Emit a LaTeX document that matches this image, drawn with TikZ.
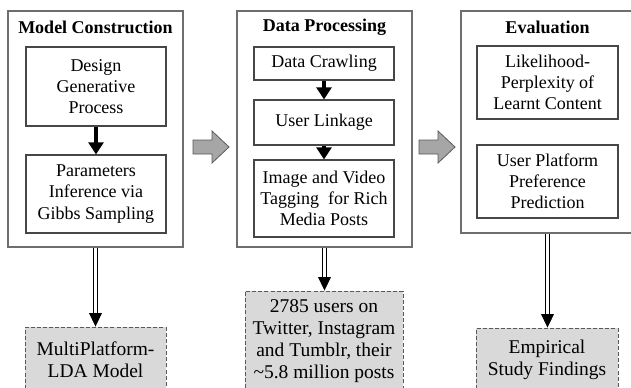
\documentclass[tikz,border=0pt]{standalone}
\usepackage{fontspec}
\setmainfont{Liberation Serif}
\newfontfamily\diagserif{Liberation Serif}
\usetikzlibrary{arrows.meta,calc}
\definecolor{edgec}{HTML}{595959}
\definecolor{outerc}{HTML}{6E6E6E}
\definecolor{boxgray}{HTML}{D9D9D9}
\definecolor{arrowgray}{HTML}{A6A6A6}
\begin{document}
\begin{tikzpicture}[x=0.75pt,y=-0.75pt,
  outerbox/.style={draw=outerc, line width=0.9pt, fill=white, inner sep=0pt},
  innerbox/.style={draw=edgec!80!black, line width=0.8pt, align=center, inner sep=0pt,
    font=\diagserif\fontsize{13.5}{15.8}\selectfont},
  resultbox/.style={draw=edgec, dash pattern=on 3pt off 1.6pt, line width=0.7pt, fill=boxgray,
    align=center, inner sep=0pt, font=\diagserif\fontsize{14.6}{16.4}\selectfont},
  titletext/.style={font=\diagserif\bfseries\fontsize{13.5}{16}\selectfont},
  flow/.style={line width=3.2pt, -{Triangle[length=9pt,width=11pt]}},
  dbl/.style={draw=black, double=white, double distance=2.2pt, line width=0.8pt},
  dbltip/.style={line width=0.5pt, -{Triangle[length=10pt,width=9.5pt]}},
  blockarrow/.style={fill=arrowgray, draw=edgec, line width=0.6pt, line join=miter}]
\fill[white] (0,0) rectangle (631,387);
\useasboundingbox (0,0) rectangle (631,387);

% Model construction column
\node[outerbox, minimum width=131.25pt, minimum height=177pt] (oA) at (95.5,129) {};
\node[titletext] (tA) at (95.5,27) {Model Construction};
\node[innerbox, minimum width=105pt, minimum height=59.25pt] (A1) at (96,86.5) {Design\\Generative\\Process};
\node[innerbox, minimum width=105pt, minimum height=58.5pt] (A2) at (96,194) {Parameters\\Inference via\\Gibbs Sampling};
\draw[flow] (A1) -- (A2);

% Data processing column
\node[outerbox, minimum width=131.25pt, minimum height=177pt] (oB) at (324.5,129) {};
\node[titletext] (tB) at (324.5,27) {Data Processing};
\node[innerbox, minimum width=105pt, minimum height=24.75pt] (B1) at (324,63.5) {Data Crawling};
\node[innerbox, minimum width=105pt, minimum height=33.75pt] (B2) at (324,122.5) {User Linkage};
\node[innerbox, minimum width=105pt, minimum height=57.75pt] (B3) at (324,198.5) {Image and Video\\Tagging\ \ for Rich\\Media Posts};
\draw[flow] (B1) -- (B2);
\draw[flow] (B2) -- (B3);

% Evaluation column
\node[outerbox, minimum width=129.75pt, minimum height=166.5pt] (oC) at (547.5,122) {};
\node[titletext] (tC) at (547.5,27) {Evaluation};
\node[innerbox, minimum width=105.75pt, minimum height=54.75pt] (C1) at (547.5,82.5) {Likelihood-\\Perplexity of\\Learnt Content};
\node[innerbox, minimum width=105.75pt, minimum height=54.75pt] (C2) at (547.5,181.5) {User Platform\\Preference\\Prediction};

% Gray block arrows
\filldraw[blockarrow] (193,140) -- (212,140) -- (212,131) -- (229,147) -- (212,163) -- (212,154) -- (193,154) -- cycle;
\filldraw[blockarrow] (419,140) -- (438,140) -- (438,131) -- (455,147) -- (438,163) -- (438,154) -- (419,154) -- cycle;

% Result boxes
\node[resultbox, minimum width=105.75pt, minimum height=48.75pt] (D1) at (95.5,359.5) {MultiPlatform-\\LDA Model};
\node[resultbox, minimum width=118.5pt, minimum height=75pt] (D2) at (324,341) {2785 users on\\Twitter, Instagram\\and Tumblr, their\\\textasciitilde5.8 million posts};
\node[resultbox, minimum width=106.5pt, minimum height=48pt] (D3) at (547,360) {Empirical\\Study Findings};

% Double arrows
\draw[dbl] (oA.south) -- ($(oA.south |- D1.north)+(0,-13)$);
\draw[dbltip] ($(oA.south |- D1.north)+(0,-14)$) -- (oA.south |- D1.north);
\draw[dbl] (oB.south) -- ($(oB.south |- D2.north)+(0,-13)$);
\draw[dbltip] ($(oB.south |- D2.north)+(0,-14)$) -- (oB.south |- D2.north);
\draw[dbl] (oC.south) -- ($(oC.south |- D3.north)+(0,-13)$);
\draw[dbltip] ($(oC.south |- D3.north)+(0,-14)$) -- (oC.south |- D3.north);
\end{tikzpicture}
\end{document}
